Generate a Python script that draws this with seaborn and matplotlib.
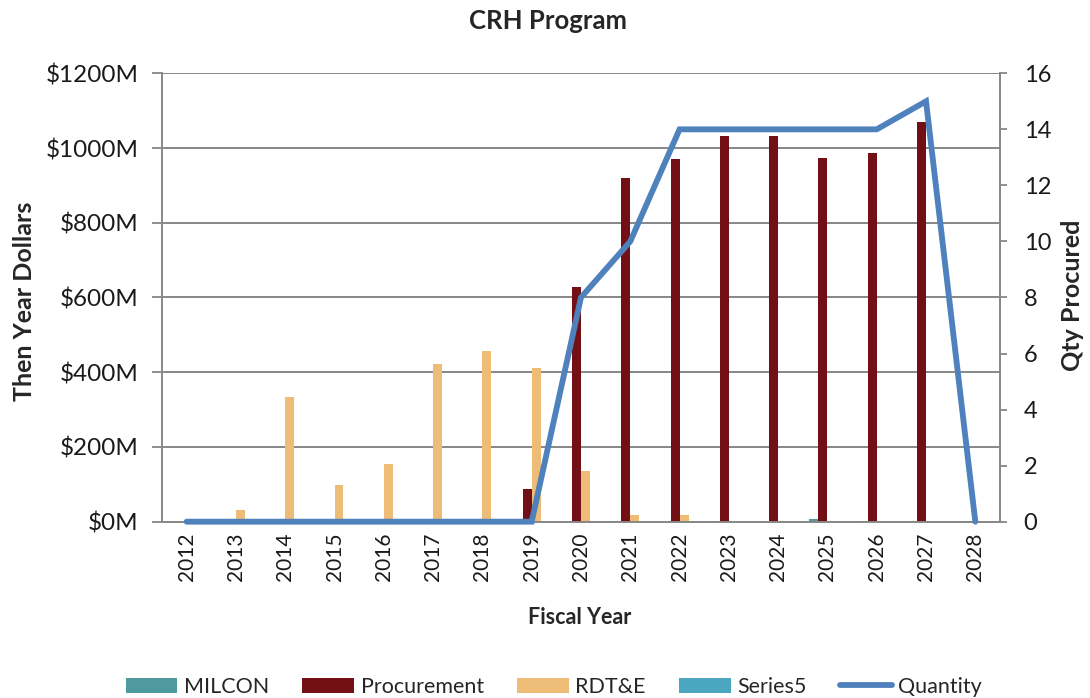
import numpy as np
import pandas as pd
import matplotlib
matplotlib.use("Agg")
import matplotlib.pyplot as plt
import seaborn as sns
from matplotlib.patches import Patch
from matplotlib.lines import Line2D

# Chart data ($M and units)
years = ["2012", "2013", "2014", "2015", "2016", "2017", "2018", "2019", "2020",
         "2021", "2022", "2023", "2024", "2025", "2026", "2027", "2028"]
milcon = [0, 0, 0, 0, 1, 0, 0, 0, 0, 3, 3, 3, 0, 6, 3, 0, 0]
procurement = [0, 0, 0, 0, 0, 0, 0, 87, 627, 919, 971, 1031, 1031, 974, 987, 1070, 3]
rdte = [0, 32, 333, 97, 155, 423, 457, 412, 136, 18, 18, 0, 0, 0, 0, 0, 0]
series5 = [0, 0, 0, 0, 0, 0, 0, 0, 0, 0, 0, 0, 0, 0, 0, 0, 0]
quantity = [0, 0, 0, 0, 0, 0, 0, 0, 8, 10, 14, 14, 14, 14, 14, 15, 0]

series_names = ["MILCON", "Procurement", "RDT&E", "Series5"]
colors = {"MILCON": "#4F9A9F", "Procurement": "#721015",
          "RDT&E": "#EDBD77", "Series5": "#4BA7BF"}
line_color = "#4F81BD"
grid_color = "#878787"

df = pd.DataFrame({"Year": years, "MILCON": milcon, "Procurement": procurement,
                   "RDT&E": rdte, "Series5": series5})
long_df = df.melt(id_vars="Year", var_name="Series", value_name="Value")

sns.set_style("white")
plt.rcParams["font.family"] = ["Lato", "DejaVu Sans"]

fig = plt.figure(figsize=(10.9, 6.98), dpi=100)
ax = fig.add_axes([0.1486, 0.2526, 0.7688, 0.6424])

sns.barplot(data=long_df, x="Year", y="Value", hue="Series", hue_order=series_names,
            order=years, palette=colors, width=0.73, saturation=1, errorbar=None,
            legend=False, linewidth=0, edgecolor="none", ax=ax)

ax.set_ylim(0, 1200)
ax.set_yticks(range(0, 1201, 200))
ax.set_yticklabels([f"${v}M" for v in range(0, 1201, 200)])
ax.set_xlim(-0.5, len(years) - 0.5)
ax.set_xticks(np.arange(-0.5, len(years), 1), minor=True)
ax.tick_params(axis="x", which="major", length=0, rotation=90, labelsize=15, pad=8,
               labelcolor="#1a1a1a")
ax.tick_params(axis="x", which="minor", length=7, width=1.3, color=grid_color)
ax.tick_params(axis="y", length=7, width=1.3, color=grid_color, labelsize=17.5,
               labelcolor="#1a1a1a", pad=10)
ax.yaxis.grid(True, color=grid_color, lw=1.4)
ax.set_axisbelow(True)
ax.set_xlabel("")
ax.set_ylabel("")
for side in ["top", "right"]:
    ax.spines[side].set_visible(False)
for side in ["left", "bottom"]:
    ax.spines[side].set_color(grid_color)
    ax.spines[side].set_linewidth(1.4)

ax2 = ax.twinx()
sns.lineplot(x=np.arange(len(years)), y=quantity, color=line_color, lw=4.2, ax=ax2,
             clip_on=False, solid_joinstyle="miter")
ax2.set_ylim(0, 16)
ax2.set_yticks(range(0, 17, 2))
ax2.set_xlim(-0.5, len(years) - 0.5)
ax2.tick_params(axis="y", length=5, width=1.3, color=grid_color, labelsize=17,
                labelcolor="#1a1a1a", pad=12)
for side in ["top", "left", "bottom"]:
    ax2.spines[side].set_visible(False)
ax2.spines["right"].set_color(grid_color)
ax2.spines["right"].set_linewidth(1.4)

fig.text(0.503, 1 - 21 / 698, "CRH Program", ha="center", va="center",
         fontsize=18.5, fontweight="bold")
fig.text(25 / 1090, 1 - 301 / 698, "Then Year Dollars", ha="center", va="center",
         rotation=90, fontsize=18, fontweight="bold")
fig.text(1073 / 1090, 1 - 295 / 698, "Qty Procured", ha="center", va="center",
         rotation=90, fontsize=18, fontweight="bold")
fig.text(0.5317, 1 - 618 / 698, "Fiscal Year", ha="center", va="center",
         fontsize=15.5, fontweight="bold")

handles = [Patch(facecolor=colors[s], edgecolor="none") for s in series_names]
handles.append(Line2D([0], [0], color=line_color, lw=4.2))
fig.legend(handles, series_names + ["Quantity"], loc="center",
           bbox_to_anchor=(0.508, 1 - 687 / 698), ncol=5, frameon=False,
           fontsize=15.5, handlelength=2.4, handleheight=0.75, handletextpad=0.3,
           columnspacing=1.55)

fig.savefig("out.png", dpi=100)
